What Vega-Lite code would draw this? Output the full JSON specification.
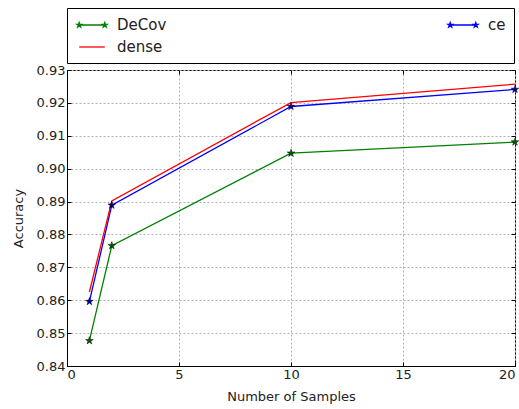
{
  "$schema": "https://vega.github.io/schema/vega-lite/v6.json",
  "width": 448,
  "height": 296,
  "autosize": "none",
  "padding": {"left": 67, "top": 70, "right": 4, "bottom": 43},
  "background": "white",
  "config": {
    "view": {"stroke": "black", "strokeWidth": 1},
    "axis": {
      "labelFont": "DejaVu Sans", "labelFontSize": 13, "labelColor": "#222",
      "titleFont": "DejaVu Sans", "titleFontSize": 13, "titleFontWeight": "normal", "titleColor": "#222",
      "domainColor": "black", "tickColor": "black", "gridColor": "#b0b0b0", "gridDash": [2, 2],
      "tickSize": -4, "labelPadding": 6
    }
  },
  "data": {
    "values": [
      {"series": "DeCov", "x": 1, "y": 0.8477},
      {"series": "DeCov", "x": 2, "y": 0.8766},
      {"series": "DeCov", "x": 10, "y": 0.9047},
      {"series": "DeCov", "x": 20, "y": 0.9081},
      {"series": "ce", "x": 1, "y": 0.8596},
      {"series": "ce", "x": 2, "y": 0.8889},
      {"series": "ce", "x": 10, "y": 0.9189},
      {"series": "ce", "x": 20, "y": 0.9241},
      {"series": "dense", "x": 1, "y": 0.8625},
      {"series": "dense", "x": 2, "y": 0.8902},
      {"series": "dense", "x": 10, "y": 0.9201},
      {"series": "dense", "x": 20, "y": 0.9257}
    ]
  },
  "resolve": {"axis": {"x": "independent", "y": "independent"}},
  "layer": [
    {
      "mark": {"type": "line", "strokeWidth": 1.3},
      "encoding": {
        "x": {"field": "x", "type": "quantitative", "scale": {"domain": [0, 20], "nice": false},
          "axis": {"title": "Number of Samples", "values": [0, 5, 10, 15, 20], "titlePadding": 9}},
        "y": {"field": "y", "type": "quantitative", "scale": {"domain": [0.84, 0.93], "nice": false, "zero": false},
          "axis": {"title": "Accuracy", "values": [0.84, 0.85, 0.86, 0.87, 0.88, 0.89, 0.9, 0.91, 0.92, 0.93], "format": ".2f", "titlePadding": 11}},
        "color": {"field": "series", "type": "nominal",
          "scale": {"domain": ["DeCov", "dense", "ce"], "range": ["#008000", "#ff0000", "#0000ff"]},
          "legend": {
            "orient": "none", "legendX": 0, "legendY": -62, "columns": 2, "title": null,
            "strokeColor": "black", "fillColor": "white", "padding": 8,
            "labelFont": "DejaVu Sans", "labelFontSize": 15, "labelColor": "#222",
            "columnPadding": 278, "rowPadding": 5, "symbolSize": 256, "symbolStrokeWidth": 1.3, "labelOffset": 24,
            "encode": {
              "symbols": {
                "update": {
                  "shape": {"signal": "datum.value === 'dense' ? 'M-0.6,0H2.6' : 'M-0.6,0H2.6M2.6,-0.3L2.67,-0.09L2.89,-0.09L2.71,0.04L2.78,0.24L2.6,0.11L2.42,0.24L2.49,0.04L2.31,-0.09L2.53,-0.09ZM-0.6,-0.3L-0.53,-0.09L-0.31,-0.09L-0.49,0.04L-0.42,0.24L-0.6,0.11L-0.78,0.24L-0.71,0.04L-0.89,-0.09L-0.67,-0.09Z'"},
                  "fill": {"signal": "datum.value === 'dense' ? 'transparent' : scale('color', datum.value)"}
                }
              }
            }
          }
        }
      }
    },
    {
      "transform": [{"filter": "datum.series !== 'dense'"}],
      "mark": {"type": "point", "filled": true, "size": 64, "stroke": "black", "strokeWidth": 0.5, "opacity": 1,
        "shape": "M0,-1L0.225,-0.309L0.951,-0.309L0.363,0.118L0.588,0.809L0,0.382L-0.588,0.809L-0.363,0.118L-0.951,-0.309L-0.225,-0.309Z"},
      "encoding": {
        "x": {"field": "x", "type": "quantitative",
          "axis": {"orient": "top", "title": null, "labels": false, "grid": false, "domain": false, "values": [0, 5, 10, 15, 20]}},
        "y": {"field": "y", "type": "quantitative",
          "axis": {"orient": "right", "title": null, "labels": false, "grid": false, "domain": false, "values": [0.84, 0.85, 0.86, 0.87, 0.88, 0.89, 0.9, 0.91, 0.92, 0.93]}},
        "fill": {"field": "series", "type": "nominal",
          "scale": {"domain": ["DeCov", "ce"], "range": ["#006000", "#0000a0"]}, "legend": null}
      }
    }
  ]
}
